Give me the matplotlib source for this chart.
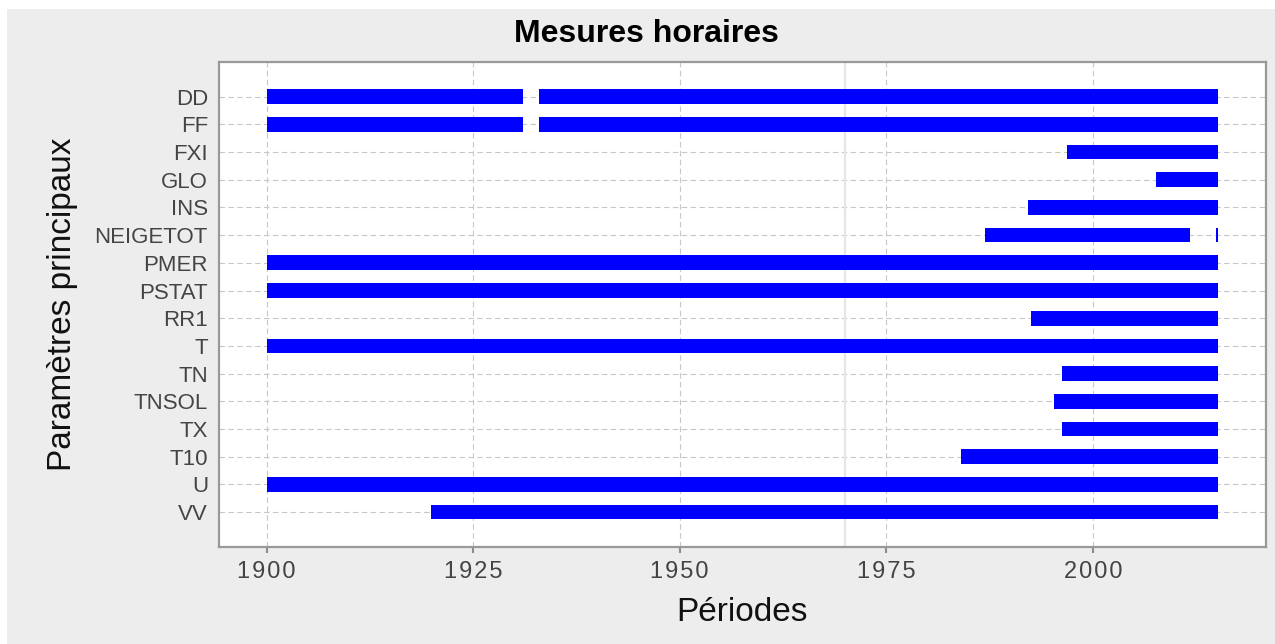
import matplotlib
matplotlib.use("Agg")
import matplotlib.pyplot as plt
from matplotlib.patches import Rectangle

# ------------------------------------------------------------
# Data: measurement periods per parameter (years)
# ------------------------------------------------------------
params = ["DD", "FF", "FXI", "GLO", "INS", "NEIGETOT", "PMER", "PSTAT",
          "RR1", "T", "TN", "TNSOL", "TX", "T10", "U", "VV"]
debut = [[1900, 1933.0], [1900, 1933.0], [1996.9], [2007.7], [1992.1],
         [1987.0, 2014.9], [1900], [1900], [1992.5], [1900], [1996.3],
         [1995.3], [1996.3], [1984.0], [1900], [1919.9]]
fin = [[1931.0, 2015.2], [1931.0, 2015.2], [2015.1], [2015.2], [2015.2],
       [2011.8, 2015.2], [2015.1], [2015.1], [2015.2], [2015.1], [2015.1],
       [2015.2], [2015.1], [2015.2], [2015.1], [2015.2]]
xticks = [1900, 1925, 1950, 1975, 2000]

plt.rcParams['font.family'] = ['Liberation Sans', 'DejaVu Sans']

fig = plt.figure(figsize=(12.75, 6.44), dpi=100)
fig.patch.set_facecolor('white')
fig.patches.append(Rectangle((7 / 1275, 0), 1, 1 - 9 / 644, transform=fig.transFigure,
                             facecolor='#ededed', edgecolor='none', zorder=-10))

ax = fig.add_axes([0.1718, 0.1511, 0.8211, 0.7526])
ax.set_facecolor('white')

# bars
for i, (s_list, e_list) in enumerate(zip(debut, fin)):
    for s, e in zip(s_list, e_list):
        ax.barh(i, e - s, left=s, height=0.53, color='#0000ff', zorder=3)

# x range with 5% padding like the original
xmin, xmax = 1900, 2015.2
pad = (xmax - xmin) * 0.05
ax.set_xlim(xmin - pad, xmax + pad)
ax.set_ylim(len(params) - 1 + 1.25, -1.25)

ax.axvline(1970, color='#e6e6e6', lw=1.6, zorder=1)

ax.set_xticks(xticks)
# slightly spaced-out digits like the original tick labels
ax.set_xticklabels(["\u200a".join(str(t)) for t in xticks])
ax.set_yticks(range(len(params)))
ax.set_yticklabels(params)
ax.grid(True, color='#c8c8c8', lw=0.8, linestyle=(0, (5, 3)), zorder=0)
ax.set_axisbelow(True)

ax.tick_params(axis='x', colors='#8c8c8c', length=4.5, width=1.5, labelsize=17,
               labelcolor='#444444', pad=6)
ax.tick_params(axis='y', length=0, labelsize=16, labelcolor='#444444', pad=8)

for sp in ax.spines.values():
    sp.set_color('#999999')
    sp.set_linewidth(1.6)

fig.text(0.507, 0.947, "Mesures horaires", fontsize=23, fontweight='bold',
         color='black', ha='center', va='center')
ax.set_xlabel("Périodes", fontsize=24, color='#111111', labelpad=10)
ax.set_ylabel("Paramètres principaux", fontsize=24, color='#111111', labelpad=12)

fig.savefig("out.png", dpi=100)
